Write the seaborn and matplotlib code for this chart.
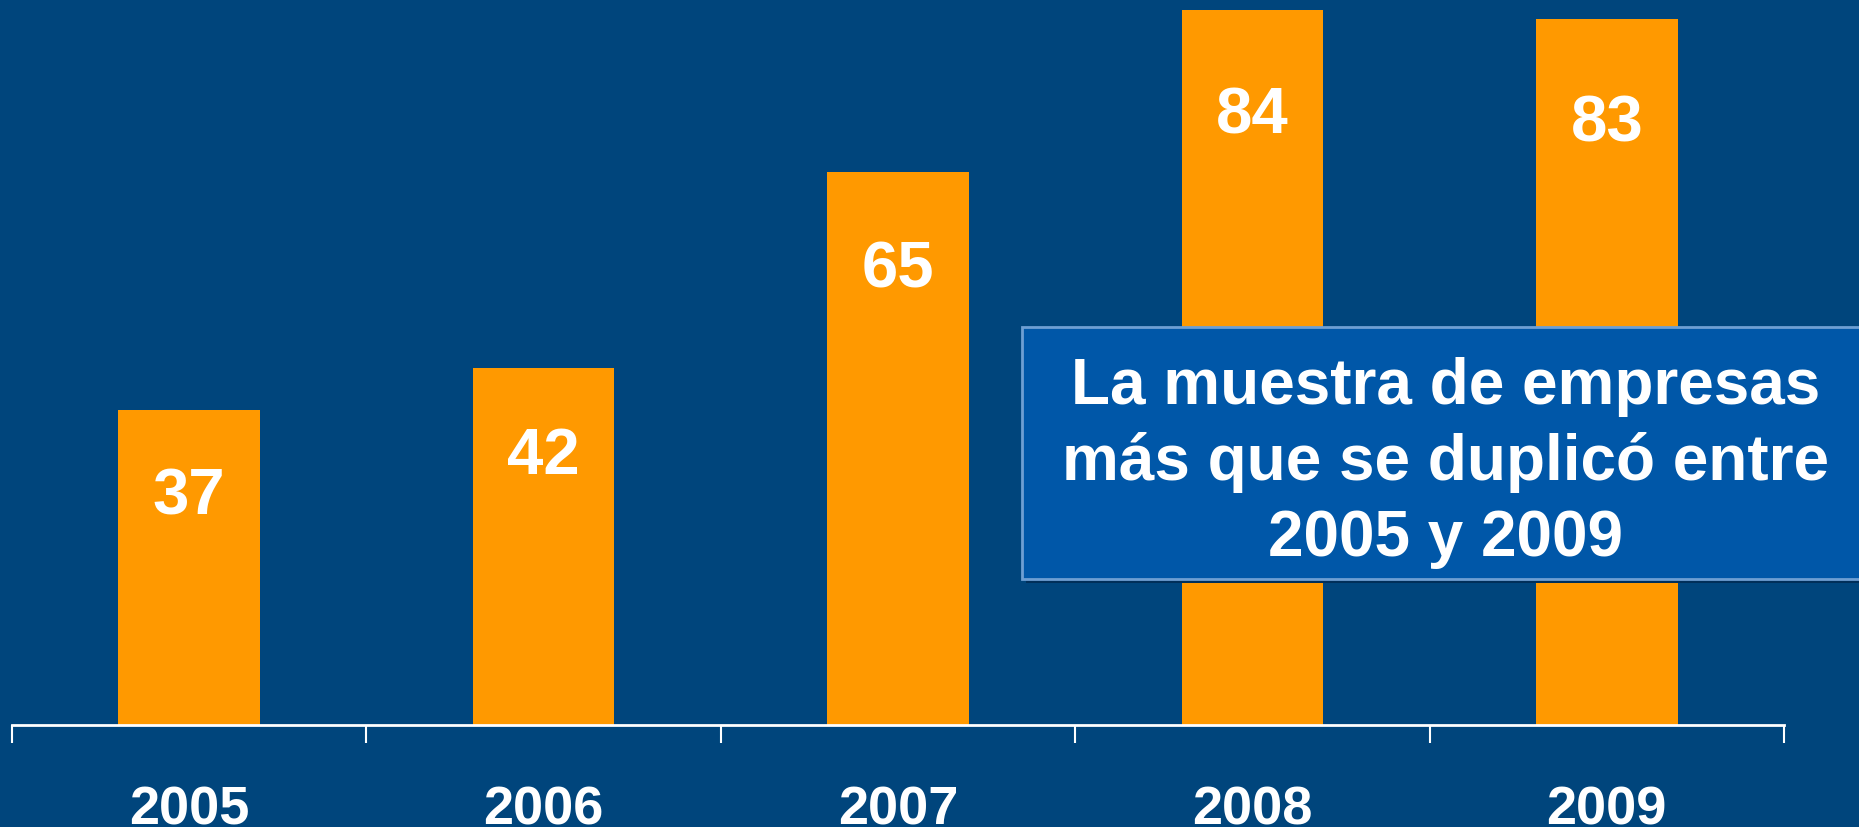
import matplotlib
matplotlib.use("Agg")
import matplotlib.pyplot as plt
import seaborn as sns
import pandas as pd
from matplotlib.patches import Rectangle

years = ["2005", "2006", "2007", "2008", "2009"]
empresas = [37, 42, 65, 84, 83]
nota = ["La muestra de empresas", "más que se duplicó entre", "2005 y 2009"]

BG = "#00457C"
ORANGE = "#FF9900"
BOX = "#0057A8"

sns.set_theme(style="white")
plt.rcParams["font.family"] = ["Liberation Sans", "DejaVu Sans"]

df = pd.DataFrame({"year": years, "n": empresas})

fig = plt.figure(figsize=(18.59, 8.28), dpi=100, facecolor=BG)
ax = fig.add_axes([12 / 1859, 102 / 828, 1772 / 1859, 726 / 828])
ax.set_facecolor(BG)

sns.barplot(data=df, x="year", y="n", color=ORANGE, saturation=1, width=0.4,
            linewidth=0, edgecolor="none", ax=ax)

ax.set_xlim(-0.5, len(years) - 0.5)
ax.set_ylim(0, 85.3)
ax.set_xlabel("")
ax.set_ylabel("")
ax.set_yticks([])

for s in ["left", "right", "top"]:
    ax.spines[s].set_visible(False)
ax.spines["bottom"].set_color("white")
ax.spines["bottom"].set_linewidth(2)

ax.set_xticks(range(len(years)))
ax.set_xticklabels(years, fontsize=39, fontweight="bold", color="white")
ax.tick_params(axis="x", which="major", length=0, pad=43)
ax.set_xticks([i - 0.5 for i in range(len(years) + 1)], minor=True)
ax.tick_params(axis="x", which="minor", length=13, width=1.5, color="white",
               direction="out", bottom=True)

# etiquetas dentro de las barras
for i, v in enumerate(empresas):
    off = -(72 + 0.4 * v) / 1.389
    ax.annotate(str(v), (i, v), xytext=(0, off), textcoords="offset points",
                ha="center", va="center", fontsize=47, fontweight="bold",
                color="white")

# nota en recuadro
W, H = 1859, 828
shadow = Rectangle((1026 / W, (H - 584) / H), 840 / W, 252 / H,
                   transform=fig.transFigure, facecolor="#002F5A",
                   edgecolor="none", zorder=5)
box = Rectangle((1022 / W, (H - 580) / H), 840 / W, 252 / H,
                transform=fig.transFigure, facecolor=BOX,
                edgecolor="#6E9FD3", linewidth=2, zorder=6)
fig.patches.extend([shadow, box])

for k, line in enumerate(nota):
    fig.text(1446 / W, (H - 387 - 76 * k) / H, line, ha="center", va="center",
             fontsize=46, fontweight="bold", color="white", zorder=7)

fig.savefig("out.png", dpi=100, facecolor=BG)
